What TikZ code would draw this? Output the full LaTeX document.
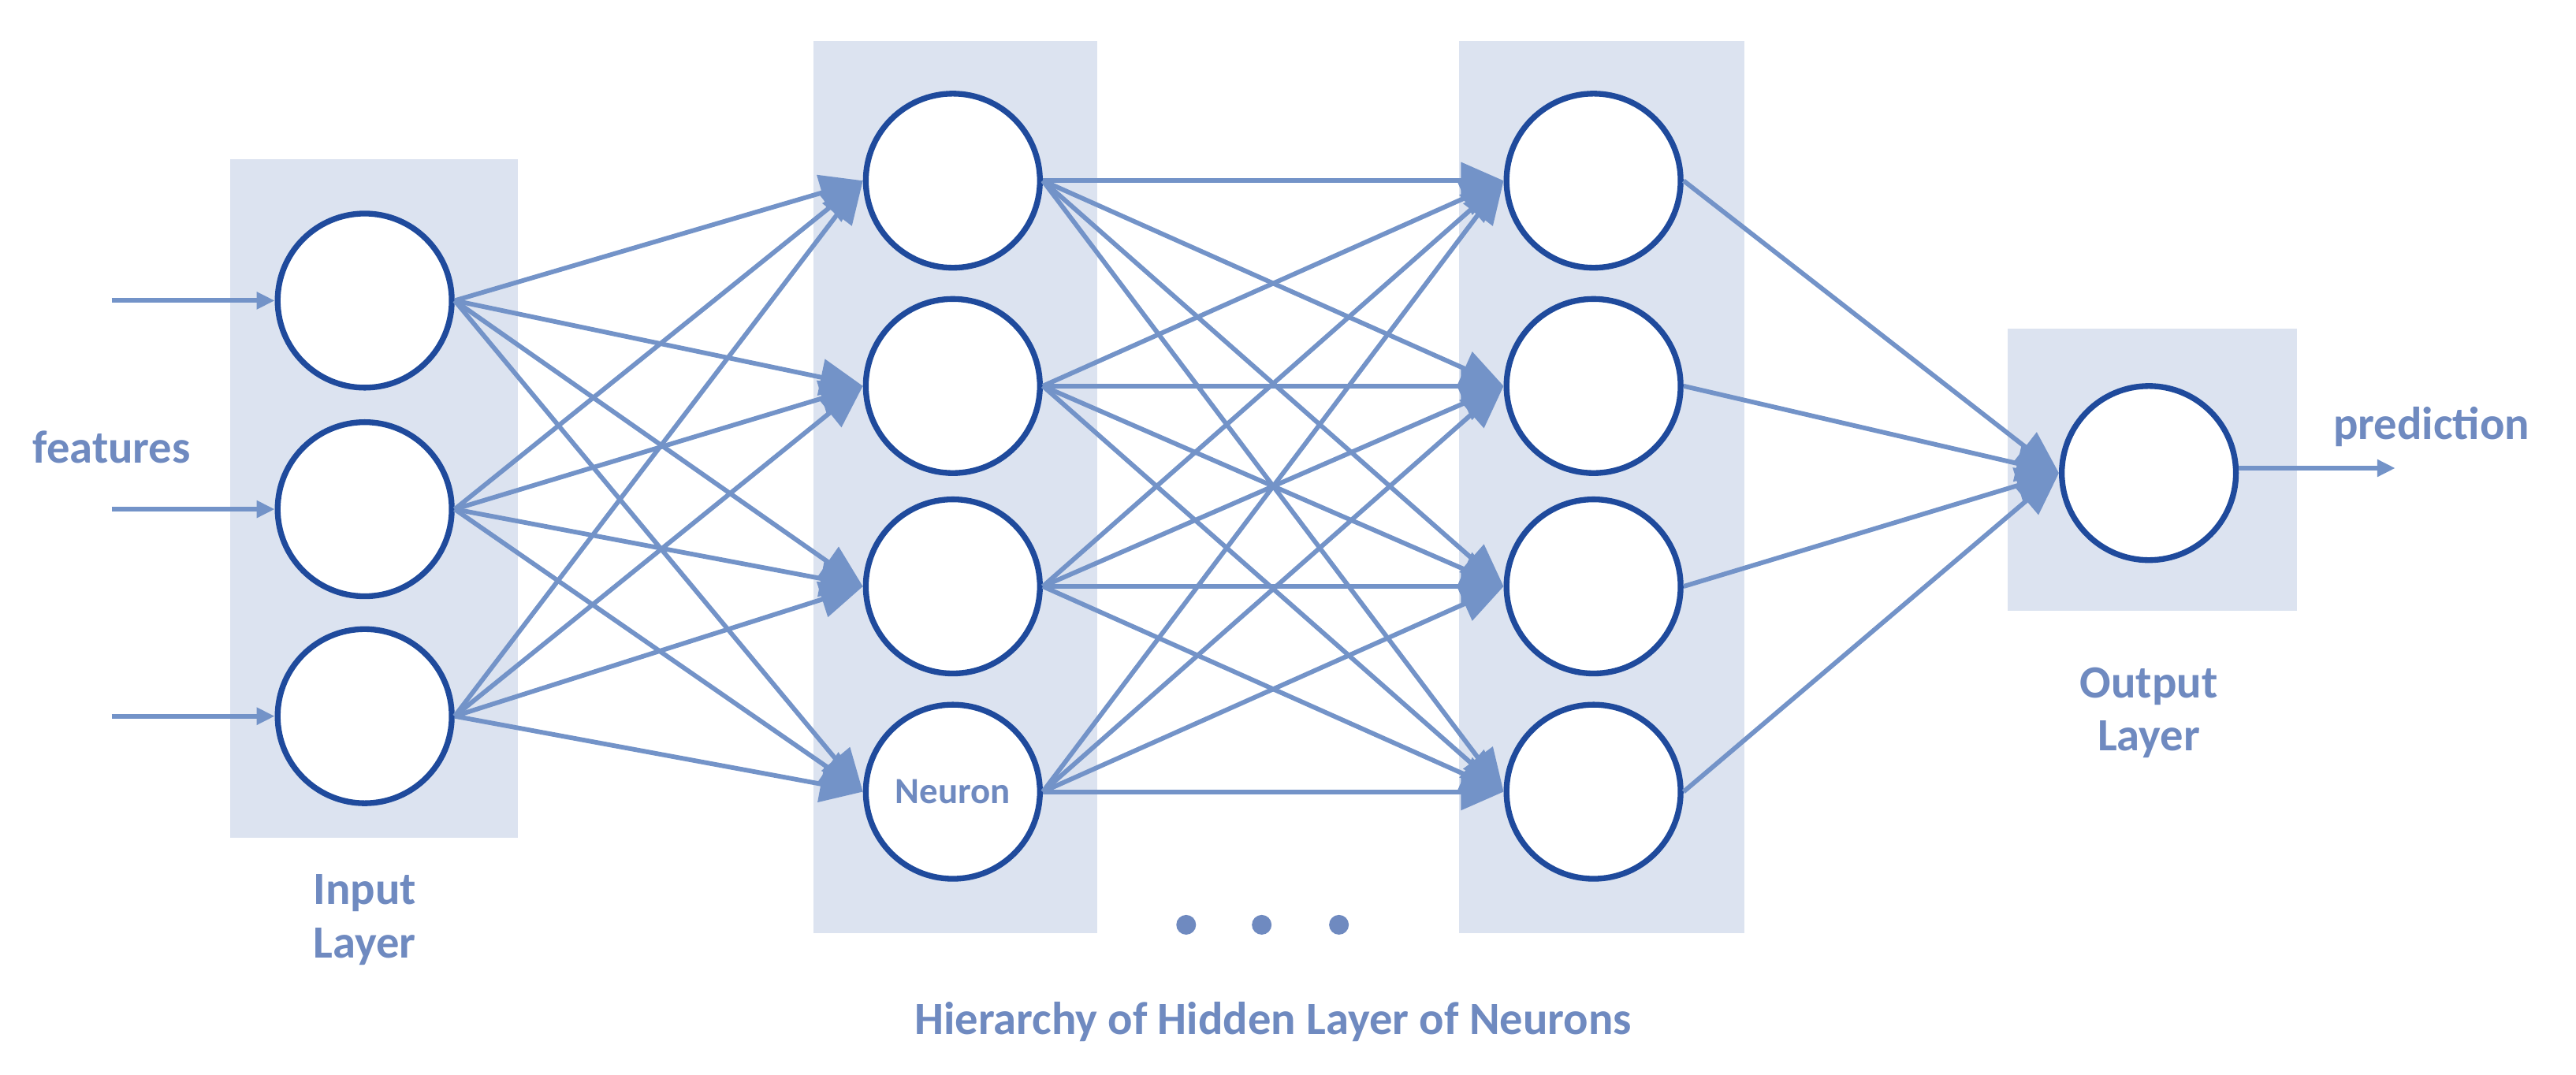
\documentclass[tikz,border=0pt]{standalone}
\usepackage{fontspec}
\setmainfont{Carlito}
\usetikzlibrary{arrows.meta}
\definecolor{linec}{HTML}{7393C8}
\definecolor{ringc}{HTML}{1F4A9C}
\definecolor{boxc}{HTML}{DCE3F0}
\definecolor{textc}{HTML}{6F8AC0}

\begin{document}
\begin{tikzpicture}[x=0.05cm,y=-0.05cm]
    \tikzstyle{layer} = [fill=boxc, draw=none]
    \tikzstyle{neuron} = [circle, draw=ringc, line width=5pt, fill=white, minimum size=5.3cm, inner sep=0pt]
    \tikzstyle{link} = [linec, line width=4pt]
    \tikzstyle{bigarrow} = [link, -{Triangle[length=1.3cm, width=1.1cm]}]
    \tikzstyle{smallarrow} = [link, -{Triangle[length=0.55cm, width=0.5cm]}]
    \tikzstyle{label} = [textc, font=\bfseries\fontsize{40}{46}\selectfont, align=center]

    \useasboundingbox (0,0) rectangle (1568,654);

    % layer boxes
    \fill[layer] (140,97) rectangle (315,510);
    \fill[layer] (495,25) rectangle (668,568);
    \fill[layer] (888,25) rectangle (1062,568);
    \fill[layer] (1222,200) rectangle (1398,372);

    % Neurons
    \foreach \y [count=\i] in {183,310,436}
        \node (n-in\i) [neuron] at (222,\y) {};
    \foreach \y [count=\i] in {110,235,357}
        \node (n-ha\i) [neuron] at (580,\y) {};
    \node (n-ha4) [neuron, font=\bfseries\fontsize{32}{38}\selectfont, text=textc] at (580,482) {Neuron};
    \foreach \y [count=\i] in {110,235,357,482}
        \node (n-hb\i) [neuron] at (970,\y) {};
    \node (n-out) [neuron] at (1308,288) {};

    % Connections
    \foreach \i in {1,2,3}
        \foreach \j in {1,2,3,4}
            \draw[bigarrow] (n-in\i.east) -- (n-ha\j.west);
    \foreach \i in {1,2,3,4}
        \foreach \j in {1,2,3,4}
            \draw[bigarrow] (n-ha\i.east) -- (n-hb\j.west);
    \foreach \i in {1,2,3,4}
        \draw[bigarrow] (n-hb\i.east) -- (n-out.west);

    % Inputs and output
    \foreach \y [count=\i] in {183,310,436} {
        \coordinate (src\i) at (68,\y);
        \draw[smallarrow] (src\i) -- (n-in\i.west);
    }
    \coordinate (pred) at (1458,285);
    \draw[smallarrow] (n-out.east |- pred) -- (pred);

    % Labels
    \node (features) [label] at (68,272) {features};
    \node (prediction) [label] at (1480,260) {prediction};
    \node (inlabel) [label] at (222,560) {Input\\Layer};
    \node (outlabel) [label] at (1308,434) {Output\\Layer};
    \node (hidden) [label] at (775,622) {Hierarchy of Hidden Layer of Neurons};
    \foreach \x in {722,768,815}
        \fill[textc] (\x,563) circle (6);
\end{tikzpicture}
\end{document}
